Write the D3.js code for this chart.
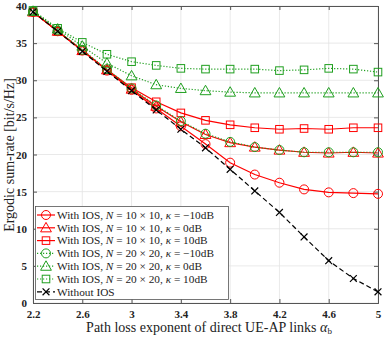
<!DOCTYPE html>
<html><head><meta charset="utf-8">
<script src="https://cdn.jsdelivr.net/npm/d3@7"></script>
<style>body{margin:0;background:#fff}svg{display:block}</style>
</head><body><svg id="c" width="388" height="337"></svg>
<script>
const alphaB = [2.2,2.4,2.6,2.8,3.0,3.2,3.4,3.6,3.8,4.0,4.2,4.4,4.6,4.8,5.0];
const xTicks = [2.2,2.6,3,3.4,3.8,4.2,4.6,5];
const yTicks = [0,5,10,15,20,25,30,35,40];
const ios10_m10 = [39.2,36.6,34.0,31.3,28.7,26.2,23.8,21.4,18.9,17.3,16.2,15.3,14.9,14.8,14.7];
const ios10_0   = [39.2,36.6,34.0,31.4,28.8,26.5,24.4,22.7,21.6,21.0,20.6,20.3,20.2,20.3,20.2];
const ios10_10  = [39.2,36.6,34.0,31.4,29.0,27.1,25.6,24.6,24.0,23.6,23.4,23.5,23.4,23.6,23.6];
const ios20_m10 = [39.3,36.7,34.1,31.5,28.9,26.6,24.5,22.8,21.7,21.0,20.6,20.3,20.3,20.3,20.3];
const ios20_0   = [39.3,36.9,34.6,32.3,30.6,29.4,28.9,28.6,28.4,28.3,28.3,28.3,28.3,28.3,28.3];
const ios20_10  = [39.4,37.0,35.1,33.5,32.5,32.0,31.6,31.5,31.5,31.5,31.3,31.4,31.6,31.5,31.1];
const noIOS     = [39.2,36.6,33.9,31.2,28.6,26.0,23.4,20.9,18.0,15.1,12.2,8.9,5.7,3.3,1.5];

const RED = "#ff0000", GREEN = "#1f9f1f";
const series = [
  {v: ios10_m10, c: RED, m: "circle", d: null, N: "10 × 10", k: "−10dB"},
  {v: ios10_0, c: RED, m: "triangle", d: null, N: "10 × 10", k: "0dB"},
  {v: ios10_10, c: RED, m: "square", d: null, N: "10 × 10", k: "10dB"},
  {v: ios20_m10, c: GREEN, m: "circle", d: "1.2,1.8", N: "20 × 20", k: "−10dB"},
  {v: ios20_0, c: GREEN, m: "triangle", d: "1.2,1.8", N: "20 × 20", k: "0dB"},
  {v: ios20_10, c: GREEN, m: "square", d: "1.2,1.8", N: "20 × 20", k: "10dB"},
  {v: noIOS, c: "#000", m: "x", d: "5,3", label: "Without IOS"}
];

const svg = d3.select("#c");
const L = 33, R = 378, T = 6, B = 303;
const x = d3.scaleLinear().domain([2.2,5]).range([L,R]);
const y = d3.scaleLinear().domain([0,40]).range([B,T]);

// grid
const g = svg.append("g");
g.selectAll(".gx").data(xTicks).join("line").attr("x1",d=>x(d)).attr("x2",d=>x(d)).attr("y1",T).attr("y2",B).attr("stroke","#e3e3e3").attr("stroke-width",0.8);
g.selectAll(".gy").data(yTicks).join("line").attr("y1",d=>y(d)).attr("y2",d=>y(d)).attr("x1",L).attr("x2",R).attr("stroke","#e3e3e3").attr("stroke-width",0.8);

// axes
const font = "'Liberation Serif','DejaVu Serif',serif";
const ax = svg.append("g").attr("transform",`translate(0,${B})`).call(d3.axisBottom(x).tickValues(xTicks).tickSize(-4).tickPadding(7).tickFormat(d3.format("")));
const ay = svg.append("g").attr("transform",`translate(${L},0)`).call(d3.axisLeft(y).tickValues(yTicks).tickSize(-4).tickPadding(6));
const at = svg.append("g").attr("transform",`translate(0,${T})`).call(d3.axisTop(x).tickValues(xTicks).tickSize(-4).tickFormat(""));
const ar = svg.append("g").attr("transform",`translate(${R},0)`).call(d3.axisRight(y).tickValues(yTicks).tickSize(-4).tickFormat(""));
[ax,ay,at,ar].forEach(a=>{
  a.select(".domain").attr("stroke","#555");
  a.selectAll(".tick line").attr("stroke","#555");
  a.selectAll("text").attr("font-family",font).attr("font-weight","bold").attr("font-size",11).attr("fill","#222");
});

function marker(sel, m, c, size) {
  if (m === "circle") sel.append("circle").attr("r",size*0.5).attr("fill","none").attr("stroke",c).attr("stroke-width",1);
  else if (m === "square") sel.append("rect").attr("x",-size*0.42).attr("y",-size*0.42).attr("width",size*0.84).attr("height",size*0.84).attr("fill","none").attr("stroke",c).attr("stroke-width",1);
  else if (m === "triangle") { const s=size*0.6; sel.append("path").attr("d",`M0,${-s}L${s*1.0},${s*0.75}L${-s*1.0},${s*0.75}Z`).attr("fill","none").attr("stroke",c).attr("stroke-width",1); }
  else if (m === "x") { const s=size*0.38; sel.append("path").attr("d",`M${-s},${-s}L${s},${s}M${-s},${s}L${s},${-s}`).attr("stroke",c).attr("stroke-width",1.2); }
}

const line = d3.line().x((d,i)=>x(alphaB[i])).y(d=>y(d));
const plot = svg.append("g");
series.forEach(s=>{
  plot.append("path").datum(s.v).attr("d",line).attr("fill","none").attr("stroke",s.c).attr("stroke-width",1.2).attr("stroke-dasharray",s.d);
  s.v.forEach((v,i)=>{
    const mg = plot.append("g").attr("transform",`translate(${x(alphaB[i])},${y(v)})`);
    marker(mg, s.m, s.c, 9);
  });
});

// legend
const lg = svg.append("g");
lg.append("rect").attr("x",35.5).attr("y",206.5).attr("width",193).attr("height",93).attr("fill","#fff").attr("stroke","#555").attr("stroke-width",0.8);
series.forEach((s,i)=>{
  const yy = 215 + i*12.8;
  lg.append("line").attr("x1",37).attr("x2",55).attr("y1",yy).attr("y2",yy).attr("stroke",s.c).attr("stroke-width",1.2).attr("stroke-dasharray",s.d);
  marker(lg.append("g").attr("transform",`translate(46,${yy})`), s.m, s.c, 9);
  const t = lg.append("text").attr("x",57).attr("y",yy+3.8).attr("font-family",font).attr("font-size",11.3).attr("fill","#222");
  if (s.label) t.text(s.label);
  else {
    t.append("tspan").text("With IOS, ");
    t.append("tspan").attr("font-style","italic").text("N");
    t.append("tspan").text(" = " + s.N + ", ");
    t.append("tspan").attr("font-style","italic").text("κ");
    t.append("tspan").text(" = " + s.k);
  }
});

// axis labels
svg.append("text").attr("transform","translate(14,155) rotate(-90)").attr("text-anchor","middle").attr("font-family",font).attr("font-size",14).attr("fill","#222").text("Ergodic sum-rate [bit/s/Hz]");
const xl = svg.append("text").attr("x",209).attr("y",332).attr("text-anchor","middle").attr("font-family",font).attr("font-size",14).attr("fill","#222");
xl.append("tspan").text("Path loss exponent of direct UE-AP links ");
xl.append("tspan").attr("font-style","italic").text("α");
xl.append("tspan").attr("font-size",9).attr("dy",2).text("b");
</script></body></html>
